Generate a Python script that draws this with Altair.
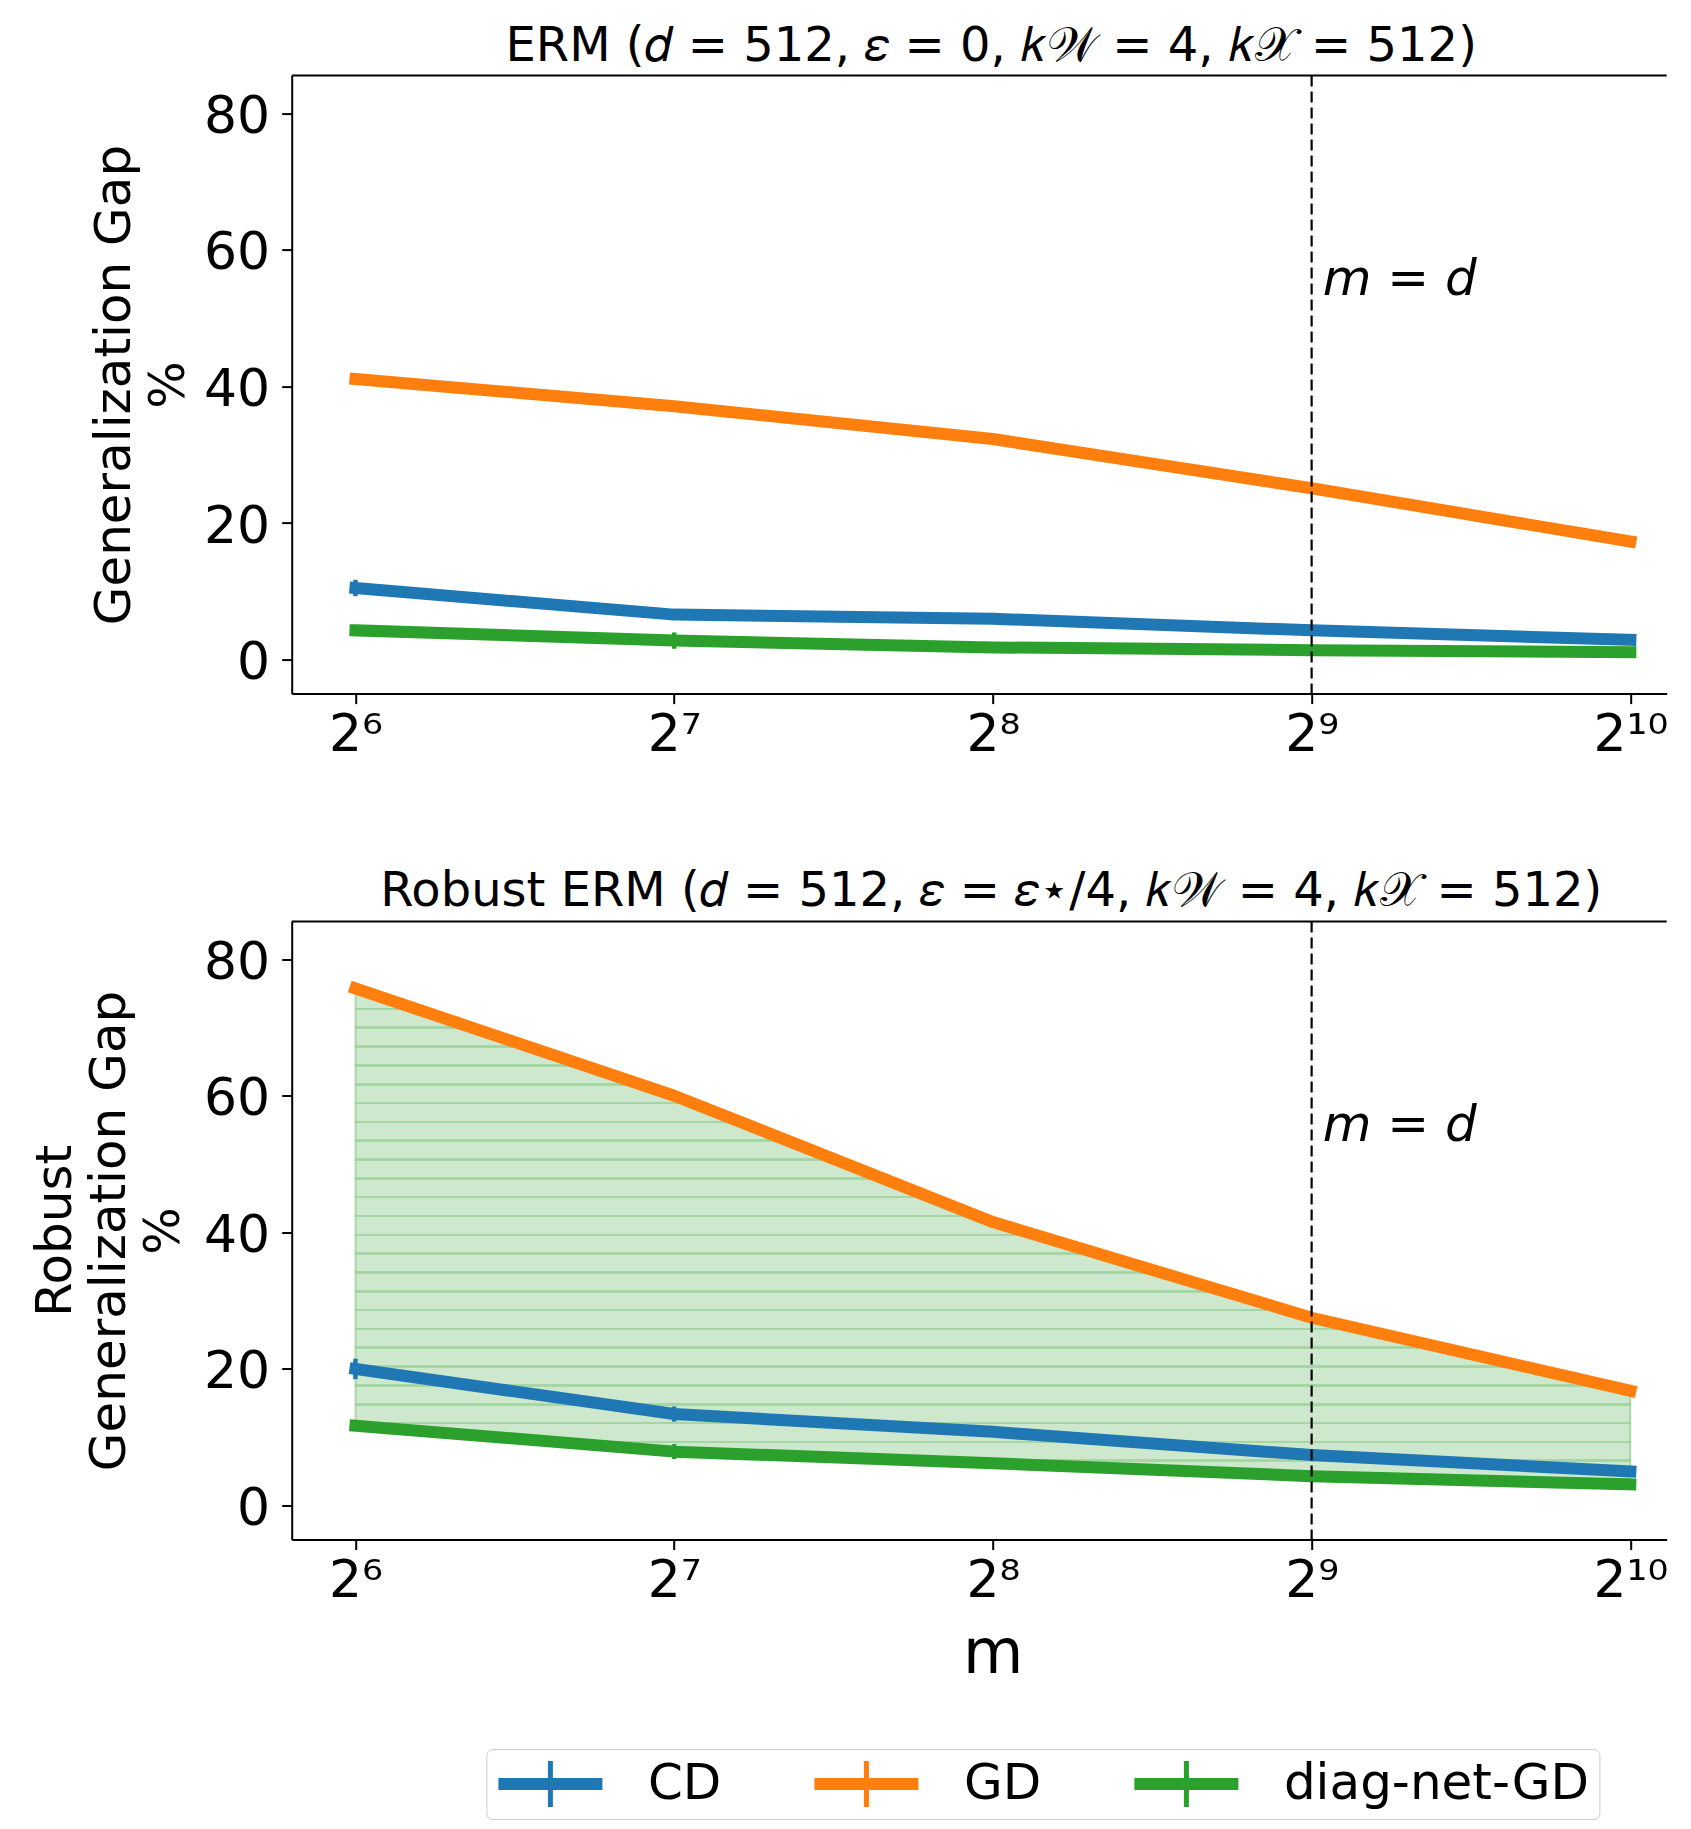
import altair as alt
import pandas as pd

# ---------------- data ----------------
x_exp = [6, 7, 8, 9, 10]                       # m = 2^x
xtick_labels = ["2⁶", "2⁷", "2⁸", "2⁹", "2¹⁰"]
series = ["CD", "GD", "diag-net-GD"]
colors = ["#1f77b4", "#ff7f0e", "#2ca02c"]

erm_cd = [10.5, 6.6, 6.0, 4.3, 2.9]
erm_gd = [41.1, 37.1, 32.3, 25.1, 17.3]
erm_diag = [4.3, 2.8, 1.8, 1.4, 1.1]
erm_cd_err = [1.2, 0.5, 0.5, 0.5, 0.5]
erm_gd_err = [0.5, 0.5, 0.5, 0.5, 0.5]
erm_diag_err = [0.5, 1.2, 0.5, 0.5, 0.5]

rob_cd = [20.0, 13.4, 10.8, 7.4, 5.0]
rob_gd = [75.7, 60.0, 41.5, 27.5, 16.8]
rob_diag = [11.7, 7.9, 6.2, 4.3, 3.1]
rob_cd_err = [1.5, 1.1, 0.5, 0.5, 0.5]
rob_gd_err = [0.5, 0.5, 0.5, 0.5, 0.5]
rob_diag_err = [0.5, 1.1, 0.5, 0.5, 0.5]

yticks = [0, 20, 40, 60, 80]
y_domain = [-4.96, 85.5]
x_domain = [5.8, 10.114]
m_eq_d = [9]
annot_y = [55.6]

title_top = "ERM (𝑑 = 512, 𝜀 = 0, 𝑘𝒲 = 4, 𝑘𝒳 = 512)"
title_bot = "Robust ERM (𝑑 = 512, 𝜀 = 𝜀⋆/4, 𝑘𝒲 = 4, 𝑘𝒳 = 512)"
ytitle_top = ["Generalization Gap", "%"]
ytitle_bot = ["Robust", "Generalization Gap", "%"]

# ---------------- style ----------------
FONT = "DejaVu Sans"
W, H = 1375, 618
LW = 12
hatch_base = "#cde8cd"
hatch_line = "#a6d5a6"

xscale = alt.Scale(domain=x_domain, nice=False, zero=False)
yscale = alt.Scale(domain=y_domain, nice=False, zero=False)
cscale = alt.Scale(domain=series, range=colors)

label_expr = " : ".join(
    f"datum.value == {v} ? '{t}'" for v, t in zip(x_exp, xtick_labels)
) + " : ''"

# legend handle: thick horizontal line with a thinner vertical error bar
LEGEND_SYMBOL = ("M-1,-0.261H1.152V-1H1.370V-0.261H3.522V0.261H1.370V1H1.152V0.261H-1Z")


def long_df(cd, gd, diag, cde, gde, dge):
    rows = []
    for name, col, ys, es in ((series[0], colors[0], cd, cde),
                              (series[1], colors[1], gd, gde),
                              (series[2], colors[2], diag, dge)):
        for xv, yv, ev in zip(x_exp, ys, es):
            rows.append({"series": name, "col": col, "x": xv, "y": yv, "err": ev})
    return pd.DataFrame(rows)


def xaxis(with_title):
    kw = dict(
        values=x_exp, labelExpr=label_expr,
        labelFontSize=52, labelFont=FONT, labelColor="black",
        labelBaseline="alphabetic", labelPadding=47, labelFlush=False, labelOverlap=False,
        tickSize=10, tickWidth=2, tickColor="black",
        domainColor="black", domainWidth=2, grid=False,
    )
    if with_title:
        kw.update(title="m", titleFontSize=62, titleFont=FONT, titleFontWeight="normal",
                  titleColor="black", titleBaseline="alphabetic", titleAlign="center",
                  titleY=133, titleX=701)
    else:
        kw.update(title="")
    return alt.Axis(**kw)


def yaxis(title, tx):
    return alt.Axis(
        values=yticks, labelFontSize=52, labelFont=FONT, labelColor="black",
        labelBaseline="alphabetic", labelOffset=19, labelPadding=12,
        tickSize=10, tickWidth=2, tickColor="black",
        domainColor="black", domainWidth=2, grid=False,
        title=title, titleFontSize=50, titleFont=FONT, titleFontWeight="normal",
        titleColor="black", titleAngle=270, titleAlign="center", titleBaseline="middle",
        titleLineHeight=54, titleX=tx, titleY=H / 2,
    )


def hatch_gradient(gd, diag):
    top, bot = max(gd), min(diag)
    px_per_unit = H / (y_domain[1] - y_domain[0])
    span_px = (top - bot) * px_per_unit
    spacing = 2.755  # data units between hatch lines
    half = 1.3 / span_px
    stops = [alt.GradientStop(color=hatch_base, offset=0)]
    v = 20.35 - spacing * 8
    while v < top:
        if v > bot:
            c = (top - v) / (top - bot)
            lo, hi = max(c - half, 0), min(c + half, 1)
            stops += [alt.GradientStop(color=hatch_base, offset=lo),
                      alt.GradientStop(color=hatch_line, offset=lo),
                      alt.GradientStop(color=hatch_line, offset=hi),
                      alt.GradientStop(color=hatch_base, offset=hi)]
        v += spacing
    stops.append(alt.GradientStop(color=hatch_base, offset=1))
    stops.sort(key=lambda s: s.offset)
    return alt.LinearGradient(gradient="linear", stops=stops, x1=0, x2=0, y1=0, y2=1)


def panel(cd, gd, diag, cde, gde, dge, title, ytitle, ytx, bottom):
    XA, YA = xaxis(bottom), yaxis(ytitle, ytx)
    X = lambda f: alt.X(f, scale=xscale, axis=XA)
    Y = lambda f: alt.Y(f, scale=yscale, axis=YA)
    df = long_df(cd, gd, diag, cde, gde, dge)
    base = alt.Chart(df)
    layers = []
    if bottom:
        wide = pd.DataFrame({"x": x_exp, "gd": gd, "diag": diag})
        area = alt.Chart(wide).mark_area(
            fill=hatch_gradient(gd, diag), stroke="#2ca02c", strokeOpacity=0.3, strokeWidth=2
        ).encode(x=X("x:Q"), y=Y("diag:Q"), y2="gd:Q")
        layers.append(area)
    errs = base.transform_calculate(
        lo="datum.y - datum.err", hi="datum.y + datum.err"
    ).mark_rule(strokeWidth=4.5).encode(
        x=X("x:Q"), y=Y("lo:Q"), y2="hi:Q", color=alt.Color("col:N", scale=None)
    )
    layers.append(errs)
    for s, c in zip(series, colors):
        layers.append(
            base.transform_filter(alt.datum.series == s)
            .mark_line(strokeWidth=LW, strokeCap="square", strokeJoin="round", color=c)
            .encode(x=X("x:Q"), y=Y("y:Q"))
        )
    vdf = pd.DataFrame({"x": m_eq_d, "y": annot_y})
    vline = alt.Chart(vdf).mark_rule(color="black", strokeWidth=2.2, strokeDash=[11, 5]).encode(
        x=X("x:Q")
    )
    label = alt.Chart(vdf).mark_text(
        text="m = d", align="left", baseline="middle", dx=11, fontSize=50,
        fontStyle="italic", font=FONT, color="black"
    ).encode(x=X("x:Q"), y=Y("y:Q"))
    topspine = alt.Chart(vdf).mark_rule(color="black", strokeWidth=2).encode(
        y=alt.value(0), x=alt.value(0), x2=alt.value(W)
    )
    layers += [vline, label, topspine]
    if bottom:
        carrier = base.mark_point(filled=True, size=0, opacity=1).encode(
            x=X("x:Q"), y=Y("y:Q"),
            color=alt.Color(
                "series:N", scale=cscale,
                legend=alt.Legend(
                    title=None, orient="none", direction="horizontal",
                    legendX=194.7, legendY=1673.5,
                    symbolType=LEGEND_SYMBOL,
                    symbolSize=2116, symbolStrokeWidth=0, symbolOpacity=1,
                    labelFontSize=50, labelFont=FONT, labelColor="black", labelLimit=600,
                    labelOffset=101.5, columnPadding=91, padding=10,
                    strokeColor="#cccccc", fillColor="white", cornerRadius=6,
                ),
            ),
        )
        layers.append(carrier)
    return alt.layer(*layers).properties(
        width=W, height=H,
        title=alt.TitleParams(
            text=title, fontSize=48, font=FONT, fontWeight="normal", color="black",
            anchor="middle", offset=-34, baseline="alphabetic", dx=12,
        ),
    )


top = panel(erm_cd, erm_gd, erm_diag, erm_cd_err, erm_gd_err, erm_diag_err,
            title_top, ytitle_top, -177.6, False)
bot = panel(rob_cd, rob_gd, rob_diag, rob_cd_err, rob_gd_err, rob_diag_err,
            title_bot, ytitle_bot, -236.6, True)

chart = (
    alt.vconcat(top, bot, spacing=106.9)
    .properties(padding={"left": 21.7, "top": 13.6, "right": 0, "bottom": 0})
    .configure(font=FONT)
    .configure_view(strokeWidth=0)
)

chart.save("out.html", embed_options={"renderer": "svg", "actions": False})
